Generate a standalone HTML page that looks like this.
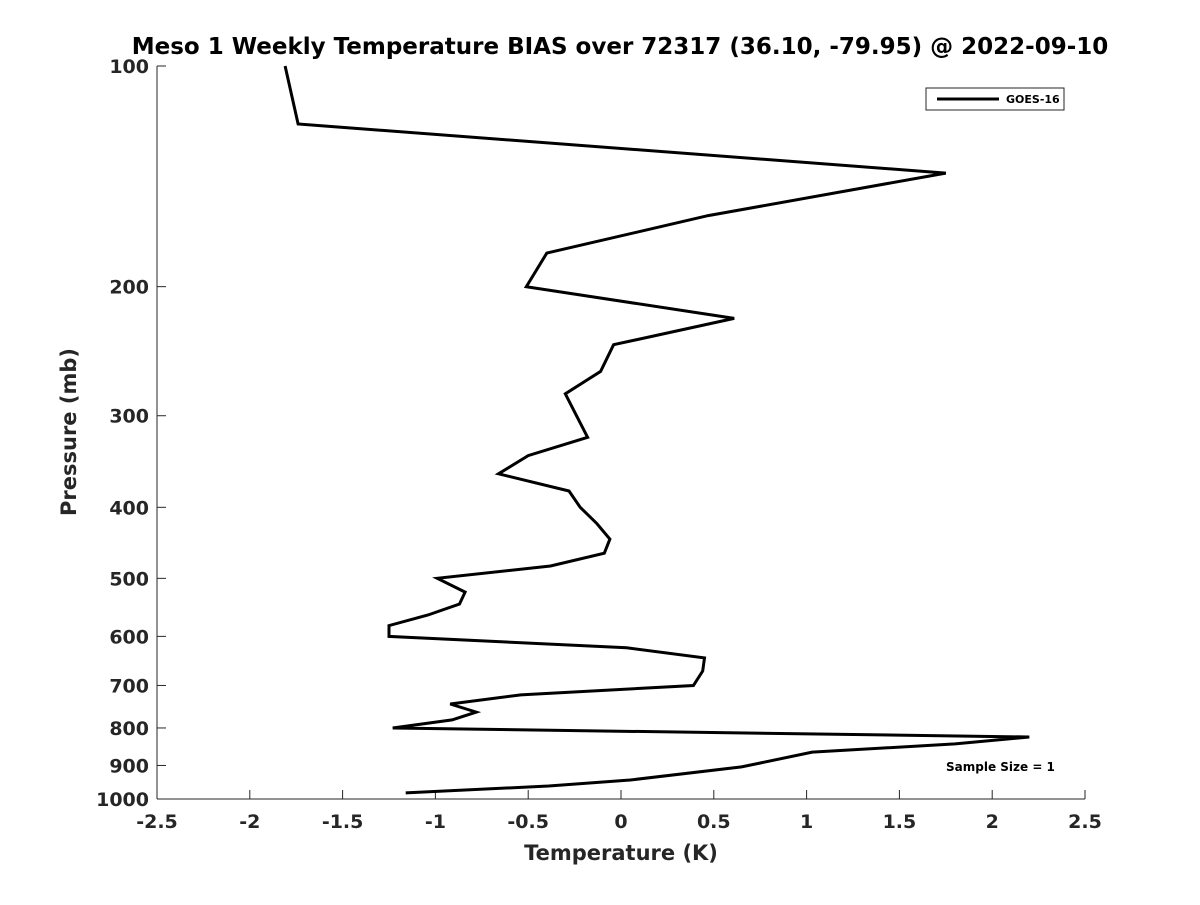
<!DOCTYPE html>
<html><head><meta charset="utf-8"><style>
body{margin:0;background:#fff;}
svg text{font-family:"DejaVu Sans","Liberation Sans",sans-serif;font-weight:bold;fill:#262626;}
</style></head><body>
<svg id="chart" width="1200" height="900" xmlns="http://www.w3.org/2000/svg">
<rect width="1200" height="900" fill="#fff"/>
<text x="620" y="54" text-anchor="middle" font-size="23" style="fill:#000">Meso 1 Weekly Temperature BIAS over 72317 (36.10, -79.95) @ 2022-09-10</text>
<g id="axes"></g>
<polyline id="series" fill="none" stroke="#000" stroke-width="3" stroke-linejoin="miter"/>
<g>
<rect x="926" y="88" width="138" height="22" fill="#fff" stroke="#262626" stroke-width="1"/>
<line x1="937" y1="99" x2="999" y2="99" stroke="#000" stroke-width="3"/>
<text x="1006" y="103" font-size="11" style="fill:#000">GOES-16</text>
</g>
<text x="946" y="771" font-size="12" style="fill:#000">Sample Size = 1</text>
<text x="621" y="860" text-anchor="middle" font-size="21">Temperature (K)</text>
<text transform="translate(76,432) rotate(-90)" text-anchor="middle" font-size="21">Pressure (mb)</text>
</svg>
<script>
const temps=[-1.81,-1.74,1.75,0.47,-0.40,-0.51,0.61,-0.04,-0.11,-0.30,-0.24,-0.18,-0.50,-0.66,-0.28,-0.22,-0.13,-0.06,-0.09,-0.38,-0.99,-0.84,-0.87,-1.04,-1.25,-1.25,0.03,0.45,0.44,0.39,-0.54,-0.92,-0.78,-0.91,-1.23,2.20,1.80,1.03,0.65,0.05,-0.39,-1.16];
const pressures=[100,120,140,160,180,200,221,240,261,280,300,321,340,360,380,400,421,442,462,481,500,522,542,561,580,600,622,642,669,700,721,742,761,780,800,823,841,863,904,942,960,981];
const xTicks=[-2.5,-2,-1.5,-1,-0.5,0,0.5,1,1.5,2,2.5];
const yTicks=[100,200,300,400,500,600,700,800,900,1000];
const L=157,R=1085,T=66,B=799;
const xs=v=>L+(v+2.5)/5*(R-L);
const ys=p=>T+Math.log10(p/100)*(B-T);
const NS="http://www.w3.org/2000/svg";
const ax=document.getElementById('axes');
function mk(tag,attrs){const e=document.createElementNS(NS,tag);for(const k in attrs)e.setAttribute(k,attrs[k]);return e;}
const xl=mk('line',{x1:L,y1:B,x2:R,y2:B,stroke:'#262626','stroke-width':1});


ax.appendChild(xl);
const yl=mk('line',{x1:L,y1:T,x2:L,y2:B,stroke:'#262626','stroke-width':1});


ax.appendChild(yl);
xTicks.forEach(v=>{
 const x=xs(v);
 ax.appendChild(mk('line',{x1:x,y1:B,x2:x,y2:B-9,stroke:'#262626','stroke-width':1}));
 const t=mk('text',{x:x,y:B+29,'text-anchor':'middle','font-size':19});
 
 
 t.textContent=String(v);ax.appendChild(t);
});
yTicks.forEach(p=>{
 const y=ys(p);
 ax.appendChild(mk('line',{x1:L,y1:y,x2:L+9,y2:y,stroke:'#262626','stroke-width':1}));
 const t=mk('text',{x:L-8,y:y+7,'text-anchor':'end','font-size':19});
 
 
 t.textContent=String(p);ax.appendChild(t);
});
document.getElementById('series').setAttribute('points',temps.map((t,i)=>xs(t).toFixed(1)+','+ys(pressures[i]).toFixed(1)).join(' '));
</script>
</body></html>
